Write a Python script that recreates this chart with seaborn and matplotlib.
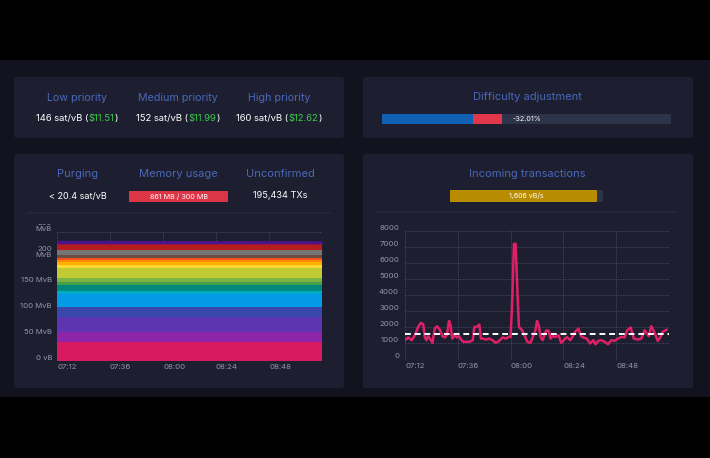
import numpy as np
import pandas as pd
import matplotlib
matplotlib.use("Agg")
import matplotlib.pyplot as plt
import seaborn as sns
from matplotlib.patches import FancyBboxPatch
from matplotlib.transforms import IdentityTransform, Bbox
from matplotlib.offsetbox import TextArea, HPacker, AnnotationBbox

sns.set_theme(style="dark")
plt.rcParams['font.family'] = ['Inter', 'DejaVu Sans']

# ---- data ----
fee_labels = ["Low priority", "Medium priority", "High priority"]
fee_sat = ["146 sat/vB", "152 sat/vB", "160 sat/vB"]
fee_usd = ["$11.51", "$11.99", "$12.62"]

diff_progress = 31.5      # % of epoch (blue)
diff_change_end = 41.5    # end of red part
diff_text = "-32.01%"

purging = "< 20.4 sat/vB"
mem_used = 861
mem_max = 300
unconfirmed = "195,434 TXs"

vbytes_per_sec = 1606
vbytes_max = 1667

# mempool stack (MvB per fee band, bottom -> top), start and end of the window
mem_t = [0, 120]
band_start = [37, 18, 30, 20, 24, 6, 13, 4, 9, 20, 5, 5, 5, 4, 6, 9, 12, 7]
band_end = [37, 18, 30, 20, 24, 6, 13, 4, 9, 20, 5, 5, 5, 4, 6, 9, 12, 6]
band_colors = ['#D81B60', '#8E24AA', '#5E35B1', '#3949AB', '#039BE5', '#00ACC1',
               '#00897B', '#43A047', '#7CB342', '#C0CA33', '#FDD835', '#FFB300',
               '#FB8C00', '#F4511E', '#6D4C41', '#757575', '#B71C1C', '#4A148C']

time_ticks = [0, 24, 48, 72, 96, 120]
time_labels = ["07:12", "07:36", "08:00", "08:24", "08:48", ""]

tx_min = [0, 1.5, 3, 4.5, 6, 7.2, 8.3, 9, 9.8, 10.5, 11.6, 12.5, 13.5, 14.6, 15.8, 17,
          18.2, 19.1, 20, 20.7, 21.5, 22.5, 23.6, 24.5, 25.5, 26.6, 27.8, 29.3, 30.8,
          31.5, 32.6, 33.8, 34.5, 35.6, 36.8, 38.3, 39.8, 41.3, 42.8, 44.3, 45.8, 47,
          48, 48.8, 49.5, 50.3, 51.2, 51.8, 53, 54, 55.6, 57, 58.1, 59.3, 60, 60.8,
          61.6, 62.6, 63.5, 64.3, 65.3, 66.1, 67.1, 68.3, 69.8, 71, 72.1, 73.6, 75.1,
          76.1, 77.3, 78.8, 80, 81.1, 82.6, 84.1, 85.6, 86.6, 87.8, 89.3, 90.8, 92.3,
          93.8, 95.3, 96.8, 98.3, 99.8, 101, 102.6, 104, 105.9, 107.4, 108.9, 110,
          110.8, 111.9, 112.9, 113.7, 114.9, 116, 117.1, 119]
tx_vbs = [1200, 1370, 1200, 1510, 2030, 2280, 2190, 1400, 1200, 1450, 1240, 1035, 1925,
          2070, 1860, 1450, 1370, 1570, 2400, 2130, 1300, 1510, 1370, 1450, 1240, 1100,
          1100, 1100, 1200, 2030, 2030, 2170, 1300, 1300, 1240, 1300, 1200, 1035, 1160,
          1370, 1300, 1400, 1400, 3890, 7200, 7200, 3890, 2030, 1860, 1610, 1100, 1035,
          1400, 1820, 2400, 2130, 1400, 1200, 1610, 1820, 1780, 1300, 1450, 1400, 1510,
          1035, 1200, 1400, 1200, 1400, 1720, 1925, 1450, 1370, 1300, 1000, 1200, 950,
          1160, 1200, 1100, 950, 1200, 1160, 1300, 1400, 1370, 1820, 1990, 1300, 1240,
          1300, 1820, 1610, 1450, 2070, 1820, 1570, 1160, 1370, 1720, 1860]

# ---- colours ----
BAND_BG = '#12131f'
PANEL = '#1d1f31'
TITLE = '#4a68b9'
VALUE = '#ffffff'
GREEN = '#3bcc49'
TICK = '#9296a8'
GRID = '#4a4e63'
TRACK = '#2d3348'

W, H = 710, 458
fig = plt.figure(figsize=(7.1, 4.58), dpi=100, facecolor='black')


def box(x0, y0, x1, y1, color, r=0.0, z=-10):
    fig.patches.append(FancyBboxPatch((x0, H - y1), x1 - x0, y1 - y0,
                                      boxstyle=f"round,pad=0,rounding_size={r}",
                                      transform=IdentityTransform(), zorder=z,
                                      facecolor=color, edgecolor='none'))


def rect(x0, y0, x1, y1):
    return [x0 / W, 1 - y1 / H, (x1 - x0) / W, (y1 - y0) / H]


def txt(x, y, s, **kw):
    kw.setdefault('ha', 'center')
    kw.setdefault('va', 'center')
    fig.text(x / W, 1 - y / H, s, **kw)


def bar(ax, width, color, left=0):
    ax.barh([0], [width], left=[left], color=color, height=1, edgecolor='none', linewidth=0)


# background band and panels
box(0, 60, W, 397, BAND_BG, z=-12)
box(14, 77, 344, 138, PANEL, 3)
box(363, 77, 693, 138, PANEL, 3)
box(14, 154, 344, 388, PANEL, 3)
box(363, 154, 693, 388, PANEL, 3)

# ---- fee panel ----
for cx, lab, sat, usd in zip([77, 178, 279], fee_labels, fee_sat, fee_usd):
    txt(cx, 98, lab, color=TITLE, fontsize=7.7)
    parts = [TextArea(sat + " (", textprops=dict(color=VALUE, fontsize=6.8)),
             TextArea(usd.replace("$", r"\$"), textprops=dict(color=GREEN, fontsize=6.8)),
             TextArea(")", textprops=dict(color=VALUE, fontsize=6.8))]
    pack = HPacker(children=parts, pad=0, sep=0, align='baseline')
    ab = AnnotationBbox(pack, (cx / W, 1 - 119 / H), xycoords='figure fraction',
                        frameon=False, box_alignment=(0.5, 0.5))
    fig.add_artist(ab)

# ---- difficulty panel ----
txt(527, 97, "Difficulty adjustment", color=TITLE, fontsize=8)
axd = fig.add_axes(rect(382, 114, 671, 124))
bar(axd, 100, TRACK)
bar(axd, diff_progress, '#1061b4')
bar(axd, diff_change_end - diff_progress, '#e0374b', left=diff_progress)
axd.text(diff_change_end + 3.5, 0, diff_text, color=VALUE, fontsize=5.2, va='center', ha='left')
axd.set_xlim(0, 100)
axd.set_ylim(-0.5, 0.5)
axd.axis('off')

# ---- mempool panel header ----
txt(78, 174, "Purging", color=TITLE, fontsize=8)
txt(178, 174, "Memory usage", color=TITLE, fontsize=8)
txt(280, 174, "Unconfirmed", color=TITLE, fontsize=8)
txt(78, 196, purging, color=VALUE, fontsize=6.5)
txt(280, 196, unconfirmed, color=VALUE, fontsize=6.6)
axm = fig.add_axes(rect(129, 191, 228, 202))
bar(axm, 100, TRACK)
bar(axm, min(100, mem_used / mem_max * 100), '#dc3545')
axm.text(50, 0, f"{mem_used} MB / {mem_max} MB", color=VALUE, fontsize=5.2,
         ha='center', va='center')
axm.set_xlim(0, 100)
axm.set_ylim(-0.5, 0.5)
axm.axis('off')
box(27, 212.5, 331, 213.5, '#2a2e42')

# ---- incoming panel header ----
txt(527, 174, "Incoming transactions", color=TITLE, fontsize=8)
axi = fig.add_axes(rect(450, 190, 603, 202))
bar(axi, 100, TRACK)
bar(axi, vbytes_per_sec / vbytes_max * 100, '#b78c00')
axi.text(50, 0, f"{vbytes_per_sec:,} vB/s", color=VALUE, fontsize=5.1, ha='center', va='center')
axi.set_xlim(0, 100)
axi.set_ylim(-0.5, 0.5)
axi.axis('off')
box(375, 211.5, 678, 212.5, '#2a2e42')


def style_axes(ax, ypad):
    ax.set_facecolor(PANEL)
    for s in ax.spines.values():
        s.set_visible(False)
    ax.set_axisbelow(True)
    ax.grid(True, color=GRID, linestyle=(0, (1.5, 1.5)), linewidth=0.6)
    ax.tick_params(axis='both', length=0, labelsize=5.6, labelcolor=TICK)
    ax.tick_params(axis='y', pad=ypad)
    ax.tick_params(axis='x', pad=2.2)
    ax.set_xticks(time_ticks)
    ax.set_xticklabels(time_labels)
    for lab in ax.get_xticklabels():
        lab.set_ha('left')
    ax.set_xlim(0, 120)
    ax.set_xlabel("")
    ax.set_ylabel("")


# ---- mempool stacked area ----
ax1 = fig.add_axes(rect(57, 232, 322, 360.7))
bands = [[s, e] for s, e in zip(band_start, band_end)]
ax1.stackplot(mem_t, *bands, colors=band_colors, linewidth=0)
style_axes(ax1, 3.6)
ax1.set_ylim(0, 250)
ax1.set_yticks([0, 50, 100, 150, 200, 250])
ax1.set_yticklabels(["0 vB", "50 MvB", "100 MvB", "150 MvB", "200\nMvB", "250\nMvB"])
for lab in ax1.get_yticklabels():
    lab.set_va('bottom')
    lab.set_multialignment('right')
    lab.set_linespacing(0.95)
top_lab = ax1.yaxis.get_major_ticks()[-1].label1
top_lab.set_clip_box(Bbox.from_extents(0, 0, W, H - 224))
top_lab.set_clip_on(True)

# ---- incoming transactions line ----
ax2 = fig.add_axes(rect(405, 231, 669, 359.5))
df = pd.DataFrame({"min": tx_min, "vbs": tx_vbs})
sns.lineplot(data=df, x="min", y="vbs", ax=ax2, color='#df1f66', linewidth=1.8)
ax2.axhline(vbytes_per_sec, color='white', linestyle=(0, (3, 2)), linewidth=1.4)
style_axes(ax2, 4.3)
ax2.set_ylim(0, 8000)
ax2.set_yticks(range(0, 8001, 1000))
for lab in ax2.get_yticklabels():
    lab.set_va('bottom')

fig.savefig("out.png", dpi=100, facecolor='black')
